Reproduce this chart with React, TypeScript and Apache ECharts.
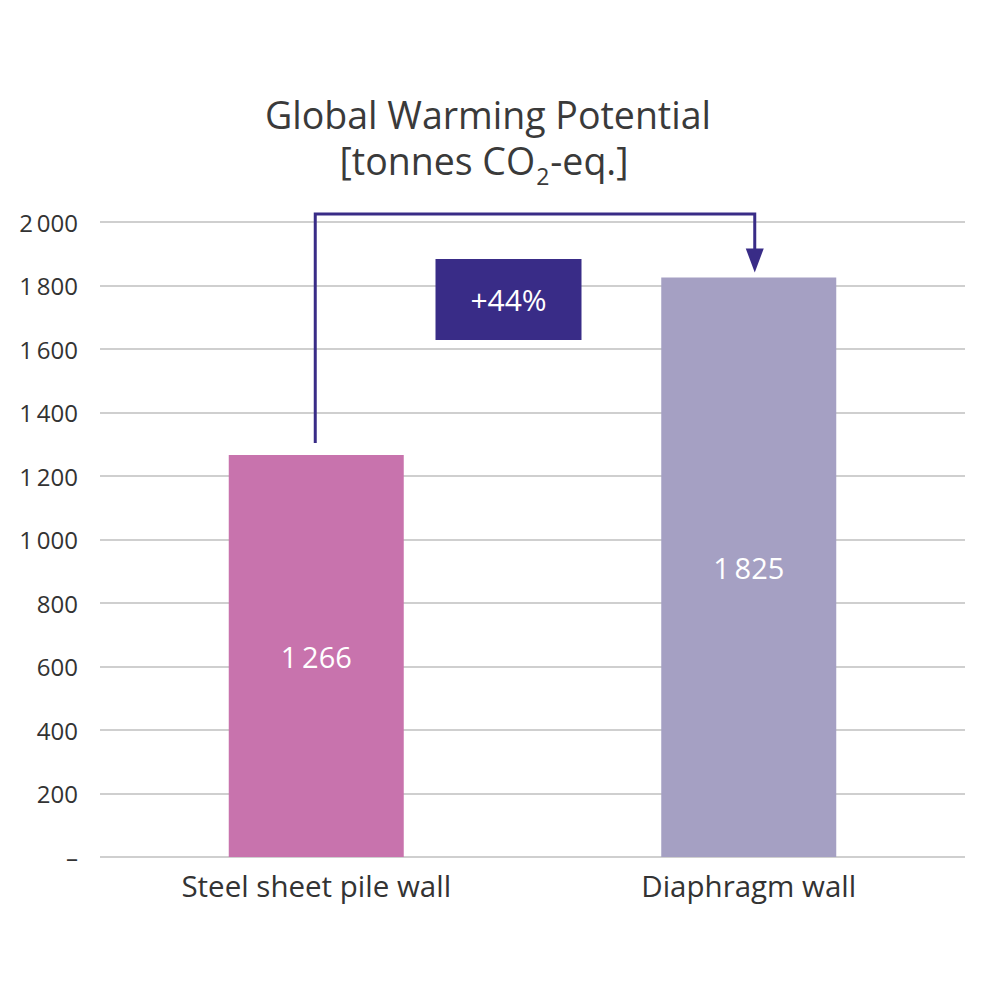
import React, { useEffect, useRef } from "react";
import * as echarts from "echarts";

const categories = ["Steel sheet pile wall", "Diaphragm wall"];
const values = [1266, 1825];
const barColors = ["#c873ad", "#a5a0c3"];
const yTicks = [0, 200, 400, 600, 800, 1000, 1200, 1400, 1600, 1800, 2000];
const changeLabel = "+44%";
const titleLine1 = "Global Warming Potential";
const FONT = "'Open Sans', Lato, sans-serif";
const DARK = "#392c87";

function fmt(v: number): string {
  if (v === 0) return "–";
  const s = String(Math.round(v));
  if (s.length > 3) return s.slice(0, s.length - 3) + "\u2009" + s.slice(s.length - 3);
  return s;
}

export default function App() {
  const ref = useRef<HTMLDivElement>(null);
  useEffect(() => {
    if (!ref.current) return;
    const chart = echarts.init(ref.current, null, { renderer: "svg" });
    chart.setOption({
      animation: false,
      grid: { left: 100, right: 35, top: 222, bottom: 143, containLabel: false },
      xAxis: {
        type: "category",
        data: categories,
        axisLine: { show: false },
        axisTick: { show: false },
        axisLabel: { color: "#333", fontSize: 29.5, fontFamily: FONT, margin: 13 },
      },
      yAxis: {
        type: "value",
        min: 0,
        max: yTicks[yTicks.length - 1],
        interval: 200,
        axisLine: { show: false },
        axisTick: { show: false },
        splitLine: { lineStyle: { color: "#cfcfcf", width: 2 } },
        axisLabel: {
          color: "#333",
          fontSize: 24,
          fontFamily: FONT,
          margin: 22,
          formatter: (v: number) => fmt(v),
        },
      },
      series: [
        {
          type: "bar",
          data: values.map((v, i) => ({ value: v, itemStyle: { color: barColors[i] } })),
          barWidth: 175,
          label: {
            show: true,
            position: "inside",
            color: "#fff",
            fontSize: 29,
            fontFamily: FONT,
            formatter: (p: any) => fmt(p.value),
          },
        },
      ],
    });

    const p1 = chart.convertToPixel({ seriesIndex: 0 }, [0, values[0]]) as number[];
    const p2 = chart.convertToPixel({ seriesIndex: 0 }, [1, values[1]]) as number[];
    const topY = chart.convertToPixel({ seriesIndex: 0 }, [0, 2025]) as number[];
    const x1 = p1[0] - 1;
    const x2 = p2[0] + 6;
    const yStart = p1[1] - 12;
    const yTop = topY[1];
    const tipY = p2[1] - 5;
    const headBase = tipY - 24;
    const midX = (p1[0] + p2[0]) / 2 - 24;

    chart.setOption({
      graphic: [
        {
          type: "text",
          x: 488,
          y: 114,
          style: {
            text: titleLine1,
            fill: "#3a3a3a",
            font: `37.5px ${FONT}`,
            align: "center",
            verticalAlign: "middle",
          },
        },
        {
          type: "text",
          x: 484,
          y: 160,
          style: {
            text: "[tonnes CO{sub|2}-eq.]",
            fill: "#3a3a3a",
            font: `37.5px ${FONT}`,
            fontFamily: FONT,
            fontSize: 37.5,
            align: "center",
            verticalAlign: "middle",
            rich: {
              sub: { fontSize: 23, fontFamily: FONT, fill: "#3a3a3a", padding: [32, 1, 0, 1], lineHeight: 23 },
            },
          },
        },
        {
          type: "polyline",
          shape: { points: [[x1, yStart], [x1, yTop], [x2, yTop], [x2, headBase + 2]] },
          style: { stroke: DARK, lineWidth: 3, fill: "none" },
        },
        {
          type: "polygon",
          shape: { points: [[x2 - 9, headBase], [x2 + 9, headBase], [x2, tipY]] },
          style: { fill: DARK },
        },
        {
          type: "rect",
          shape: { x: midX - 73, y: 259, width: 146, height: 81 },
          style: { fill: DARK },
        },
        {
          type: "text",
          x: midX,
          y: 299.5,
          style: {
            text: changeLabel,
            fill: "#fff",
            font: `30px ${FONT}`,
            align: "center",
            verticalAlign: "middle",
          },
        },
      ],
    });
    return () => chart.dispose();
  }, []);
  return (
    <div
      ref={ref}
      style={{ position: "fixed", left: 0, top: 0, width: 1000, height: 1000, background: "#fff" }}
    />
  );
}
